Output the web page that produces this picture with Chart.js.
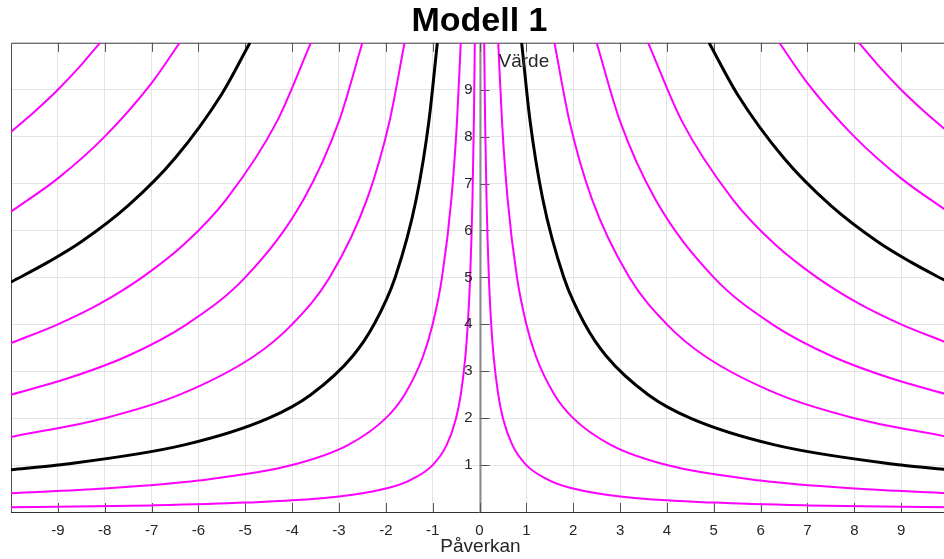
<!DOCTYPE html>
<html lang="sv">
<head>
  <meta charset="UTF-8">
  <title>Modell 1</title>
  <style>
    html, body { margin: 0; padding: 0; background: #fff; overflow: hidden; }
    #wrap { width: 960px; height: 559px; }
  </style>
</head>
<body>
  <div id="wrap"><canvas id="modell" width="960" height="559"></canvas></div>

  <script src="https://cdn.jsdelivr.net/npm/chart.js"></script>
  <script>
    // Nivåkurvor (högra halvan, x > 0); vänstra halvan är spegelbilden
    var nivaer = [1, 4, 9, 16, 25, 36, 49, 64, 81];

    var x1 = [0.1, 0.12, 0.15, 0.2, 0.25, 0.3, 0.4, 0.5, 0.7, 1, 1.5, 2, 3, 5, 7, 10];
    var y1 = [10, 8.33, 6.67, 5, 4, 3.33, 2.5, 2, 1.43, 1, 0.67, 0.5, 0.33, 0.2, 0.14, 0.1];

    var x4 = [0.4, 0.48, 0.6, 0.8, 1, 1.2, 1.6, 2, 2.8, 4, 6, 8, 10];
    var y4 = [10, 8.33, 6.67, 5, 4, 3.33, 2.5, 2, 1.43, 1, 0.67, 0.5, 0.4];

    var x9 = [0.9, 1.08, 1.35, 1.8, 2.25, 2.7, 3.6, 4.5, 6.3, 9, 10];
    var y9 = [10, 8.33, 6.67, 5, 4, 3.33, 2.5, 2, 1.43, 1, 0.9];

    var x16 = [1.6, 1.92, 2.4, 3.2, 4, 4.8, 6.4, 8, 10];
    var y16 = [10, 8.33, 6.67, 5, 4, 3.33, 2.5, 2, 1.6];

    var x25 = [2.5, 3, 3.75, 5, 6.25, 7.5, 8.75, 10];
    var y25 = [10, 8.33, 6.67, 5, 4, 3.33, 2.86, 2.5];

    var x36 = [3.6, 4.32, 5.4, 6.3, 7.2, 8.1, 9, 10];
    var y36 = [10, 8.33, 6.67, 5.71, 5, 4.44, 4, 3.6];

    var x49 = [4.9, 5.5, 6.5, 7.5, 8.5, 9.2, 10];
    var y49 = [10, 8.91, 7.54, 6.53, 5.76, 5.33, 4.9];

    var x64 = [6.4, 7, 8, 9, 10];
    var y64 = [10, 9.14, 8, 7.11, 6.4];

    var x81 = [8.1, 8.5, 9, 9.5, 10];
    var y81 = [10, 9.53, 9, 8.53, 8.1];

    var kurvX = [x1, x4, x9, x16, x25, x36, x49, x64, x81];
    var kurvY = [y1, y4, y9, y16, y25, y36, y49, y64, y81];

    // axelmarkeringar
    var xTicks = [-9, -8, -7, -6, -5, -4, -3, -2, -1, 0, 1, 2, 3, 4, 5, 6, 7, 8, 9];
    var yTicks = [1, 2, 3, 4, 5, 6, 7, 8, 9];

    var svarta = [9, 49]; // nivåer som ritas tjockt svart

    var FONT = "'Liberation Sans', Arial, Helvetica, sans-serif";
    var TEXT = '#262626';
    var GRID = '#e4e4e4';

    var datasets = [];
    nivaer.forEach(function(k, i) {
      var svart = svarta.indexOf(k) >= 0;
      var hoger = kurvX[i].map(function(v, j) { return { x: v, y: kurvY[i][j] }; });
      var vanster = kurvX[i].map(function(v, j) { return { x: -v, y: kurvY[i][j] }; });
      [vanster, hoger].forEach(function(d) {
        datasets.push({
          label: 'k = ' + k,
          data: d,
          showLine: true,
          borderColor: svart ? '#000000' : '#ff00ff',
          borderWidth: svart ? 3 : 2,
          pointRadius: 0,
          cubicInterpolationMode: 'monotone',
          fill: false
        });
      });
    });

    // ram, axel genom origo, tickmarkeringar, "Värde" och "Påverkan"
    var axlar = {
      id: 'axlar',
      beforeDatasetsDraw: function(chart) {
        var c = chart.ctx, a = chart.chartArea;
        var sx = chart.scales.x, sy = chart.scales.y;
        var x0 = Math.round(sx.getPixelForValue(0)) + 0.5;
        c.save();
        // ram överst och till vänster
        c.strokeStyle = '#4d4d4d';
        c.lineWidth = 1;
        c.beginPath();
        c.moveTo(a.left + 0.5, a.bottom);
        c.lineTo(a.left + 0.5, a.top + 0.5);
        c.lineTo(a.right, a.top + 0.5);
        c.stroke();
        // x-axel
        c.strokeStyle = '#333';
        c.beginPath();
        c.moveTo(a.left, a.bottom + 0.5);
        c.lineTo(a.right, a.bottom + 0.5);
        c.stroke();
        // y-axel vid x = 0
        c.strokeStyle = '#8a8a8a';
        c.lineWidth = 2;
        c.beginPath();
        c.moveTo(x0, a.top);
        c.lineTo(x0, a.bottom);
        c.stroke();
        // tickmarkeringar
        c.strokeStyle = '#555';
        c.lineWidth = 1;
        c.beginPath();
        xTicks.forEach(function(t) {
          var px = Math.round(sx.getPixelForValue(t)) + 0.5;
          c.moveTo(px, a.bottom);
          c.lineTo(px, a.bottom - 9);
          c.moveTo(px, a.top);
          c.lineTo(px, a.top + 9);
        });
        yTicks.forEach(function(t) {
          var py = Math.round(sy.getPixelForValue(t)) + 0.5;
          c.moveTo(x0, py);
          c.lineTo(x0 + 9, py);
        });
        c.stroke();
        c.restore();
      },
      afterDraw: function(chart) {
        var c = chart.ctx;
        var sx = chart.scales.x, sy = chart.scales.y;
        var mitt = sx.getPixelForValue(0);
        c.save();
        c.font = '19px ' + FONT;
        c.fillStyle = TEXT;
        c.textAlign = 'left';
        c.textBaseline = 'alphabetic';
        c.fillText('Värde', mitt + 19, 67);
        c.textAlign = 'center';
        c.fillText('Påverkan', mitt + 1, 552);
        // y-etiketter till vänster om axeln
        c.font = '15px ' + FONT;
        c.textAlign = 'right';
        c.textBaseline = 'middle';
        yTicks.forEach(function(t) {
          c.fillText(String(t), mitt - 7, sy.getPixelForValue(t));
        });
        c.restore();
      }
    };

    new Chart(document.getElementById('modell'), {
      type: 'scatter',
      data: { datasets: datasets },
      options: {
        responsive: false,
        animation: false,
        layout: { padding: { left: 11, right: 12, top: 0, bottom: 9 } },
        plugins: {
          legend: { display: false },
          tooltip: { enabled: false },
          title: {
            display: true,
            text: 'Modell 1',
            color: '#000',
            font: { family: FONT, size: 34, weight: 'bold' },
            padding: { top: 1, bottom: 1 }
          }
        },
        scales: {
          x: {
            type: 'linear',
            min: -10,
            max: 10,
            position: 'bottom',
            border: { display: false },
            grid: { color: GRID, drawTicks: false },
            afterBuildTicks: function(s) {
              s.ticks = xTicks.map(function(v) { return { value: v }; });
            },
            ticks: {
              autoSkip: false,
              maxRotation: 0,
              padding: 10,
              color: TEXT,
              font: { family: FONT, size: 15 }
            }
          },
          y: {
            type: 'linear',
            min: 0,
            max: 10,
            position: 'left',
            border: { display: false },
            grid: { color: GRID, drawTicks: false },
            ticks: { stepSize: 1, display: false }
          }
        }
      },
      plugins: [axlar]
    });
  </script>
</body>
</html>
